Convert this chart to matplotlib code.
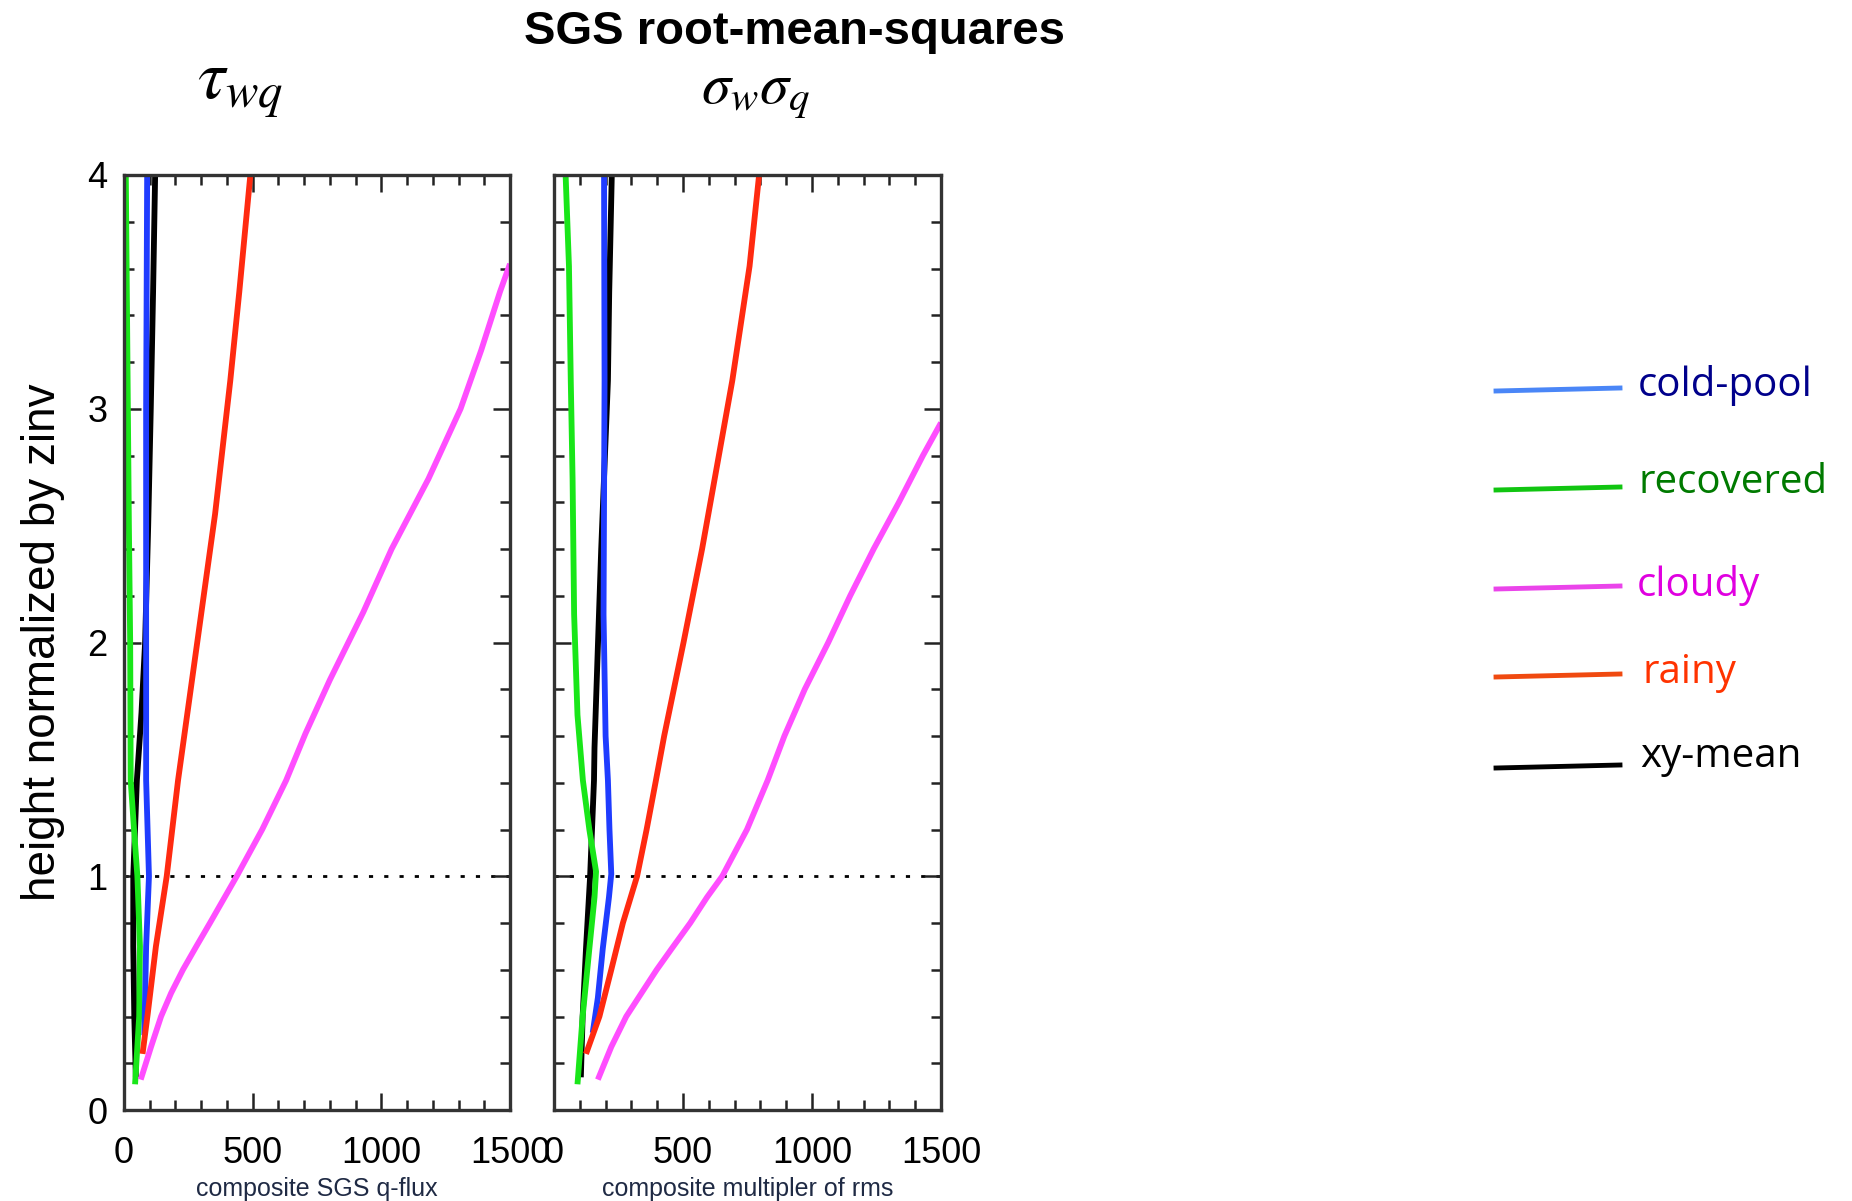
import matplotlib
matplotlib.use("Agg")
import matplotlib.pyplot as plt
from matplotlib.lines import Line2D
from matplotlib.ticker import MultipleLocator

plt.rcParams['mathtext.fontset'] = 'stix'
plt.rcParams['font.family'] = ['Liberation Sans', 'DejaVu Sans']

# ---------------- data ----------------
# left panel: composite SGS q-flux (tau_wq)
L_green_z = [4.0, 3.5, 3.0, 2.5, 2.0, 1.41, 1.2, 1.0, 0.7, 0.4, 0.11]
L_green_x = [7, 11, 15, 19, 24, 26, 39, 52, 62, 59, 43]
L_black_z = [4.0, 3.5, 3.0, 2.5, 2.0, 1.7, 1.41, 1.0, 0.7, 0.4, 0.14]
L_black_x = [121, 113, 104, 94, 82, 68, 50, 36, 36, 40, 46]
L_blue_z = [4.0, 3.0, 2.0, 1.41, 1.0, 0.7, 0.32]
L_blue_x = [90, 86, 86, 86, 97, 86, 79]
L_red_z = [4.0, 3.5, 3.12, 2.55, 1.98, 1.41, 1.0, 0.7, 0.41, 0.24]
L_red_x = [491, 448, 413, 354, 282, 210, 166, 124, 92, 72]
L_mag_z = [3.62, 3.5, 3.25, 3.0, 2.7, 2.4, 2.13, 1.84, 1.61, 1.41, 1.2, 1.0, 0.9, 0.8,
           0.7, 0.6, 0.5, 0.4, 0.27, 0.13]
L_mag_x = [1500, 1461, 1388, 1308, 1183, 1040, 930, 800, 705, 630, 537, 438, 386, 334,
           281, 229, 183, 144, 105, 65]

# right panel: composite multiplier of rms (sigma_w sigma_q)
R_green_z = [4.0, 3.61, 3.12, 2.7, 2.12, 1.69, 1.41, 1.2, 1.02, 0.91, 0.69, 0.4, 0.11]
R_green_x = [45, 58, 65, 72, 78, 91, 112, 137, 163, 157, 137, 111, 91]
R_black_z = [4.0, 3.5, 3.12, 2.4, 1.98, 1.55, 1.41, 1.0, 0.69, 0.4, 0.14]
R_black_x = [224, 214, 209, 183, 170, 157, 155, 140, 124, 111, 104]
R_blue_z = [4.0, 3.12, 2.12, 1.6, 1.41, 1.2, 1.01, 0.91, 0.69, 0.48, 0.33]
R_blue_x = [194, 196, 192, 200, 209, 215, 222, 213, 189, 170, 150]
R_red_z = [4.0, 3.61, 3.12, 2.8, 2.4, 2.0, 1.6, 1.41, 1.2, 1.0, 0.8, 0.6, 0.4, 0.24]
R_red_x = [795, 758, 691, 639, 574, 502, 427, 395, 359, 322, 267, 222, 176, 124]
R_mag_z = [2.94, 2.8, 2.6, 2.4, 2.2, 2.0, 1.8, 1.6, 1.41, 1.2, 1.0, 0.91, 0.8,
           0.69, 0.6, 0.49, 0.4, 0.27, 0.13]
R_mag_x = [1500, 1430, 1337, 1239, 1148, 1063, 972, 893, 828, 748, 652, 593, 528,
           456, 398, 333, 280, 222, 170]

legend_labels = ["cold-pool", "recovered", "cloudy", "rainy", "xy-mean"]
legend_line_colors = ["#4a86f7", "#11c511", "#ea44ea", "#f04a10", "#000000"]
legend_text_colors = ["#00008b", "#007a00", "#e000e0", "#ff3300", "#000000"]

col = {"green": "#19e619", "black": "#000000", "blue": "#1f3cff",
       "red": "#ff2a10", "mag": "#ff4dff"}

W, H = 1852, 1201
fig = plt.figure(figsize=(W / 100, H / 100), dpi=100)

def fx(px):
    return px / W

def fy(py):
    return 1 - py / H

axL = fig.add_axes([fx(124), fy(1110), (510 - 124) / W, (1110 - 175) / H])
axR = fig.add_axes([fx(554), fy(1110), (941 - 554) / W, (1110 - 175) / H])

lw = 4.2
series_L = [(L_black_x, L_black_z, "black"), (L_green_x, L_green_z, "green"),
            (L_blue_x, L_blue_z, "blue"), (L_red_x, L_red_z, "red"),
            (L_mag_x, L_mag_z, "mag")]
series_R = [(R_black_x, R_black_z, "black"), (R_green_x, R_green_z, "green"),
            (R_blue_x, R_blue_z, "blue"), (R_red_x, R_red_z, "red"),
            (R_mag_x, R_mag_z, "mag")]

for ax, series, xl in [(axL, series_L, "composite SGS q-flux"),
                       (axR, series_R, "composite multipler of rms")]:
    ax.axhline(1.0, color="black", lw=2, linestyle=(0, (1.5, 4)), zorder=1)
    for xs, zs, c in series:
        ax.plot(xs, zs, color=col[c], lw=lw, solid_capstyle="butt",
                solid_joinstyle="round", zorder=2)
    ax.set_xlim(0, 1500)
    ax.set_ylim(0, 4)
    ax.xaxis.set_major_locator(MultipleLocator(500))
    ax.xaxis.set_minor_locator(MultipleLocator(100))
    ax.yaxis.set_major_locator(MultipleLocator(1))
    ax.yaxis.set_minor_locator(MultipleLocator(0.2))
    ax.tick_params(which="both", direction="in", top=True, right=True,
                   width=1.8, color="#222222")
    ax.tick_params(which="major", length=12, labelsize=26, pad=19)
    ax.tick_params(which="minor", length=7)
    ax.tick_params(axis="y", which="major", pad=12)
    for s in ax.spines.values():
        s.set_linewidth(2.4)
        s.set_color("#333333")
    ax.set_xlabel(xl, fontsize=18, color="#1f2a44", labelpad=4)

axR.tick_params(axis="y", labelleft=False)
axL.set_ylabel("height normalized by zinv", fontsize=33, labelpad=16)

fig.text(fx(795), fy(32), "SGS root-mean-squares", ha="center", va="center",
         fontsize=34, fontweight="bold")
fig.text(fx(240), fy(88), r"$\tau_{wq}$", ha="center", va="center", fontsize=50)
fig.text(fx(756), fy(94), r"$\sigma_w\sigma_q$", ha="center", va="center", fontsize=42)

# legend drawn as figure artists
line_y = [390, 489, 588, 676, 767]
text_y = [385, 483, 586, 673, 757]
text_x = [1638, 1638, 1637, 1642, 1640]
for lab, lc, tc, ly, ty, tx in zip(legend_labels, legend_line_colors,
                                   legend_text_colors, line_y, text_y, text_x):
    fig.add_artist(Line2D([fx(1496), fx(1620)], [fy(ly + 1), fy(ly - 2)],
                          color=lc, lw=3.5, transform=fig.transFigure))
    fig.text(fx(tx), fy(ty), lab, color=tc, fontsize=29, family="Open Sans",
             ha="left", va="center")

fig.savefig("out.png", dpi=100)
